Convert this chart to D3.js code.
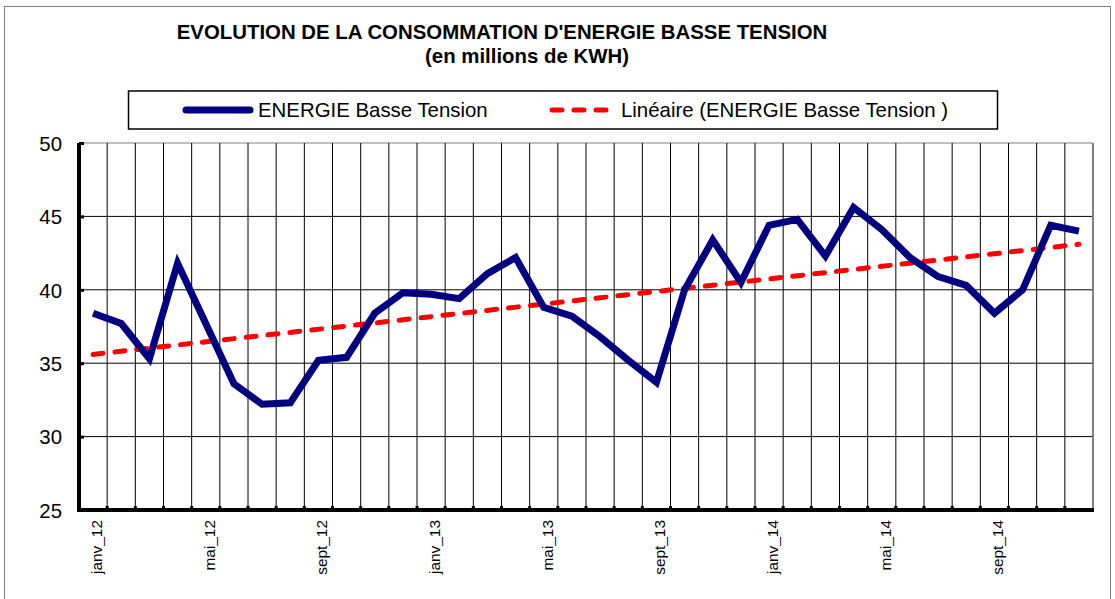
<!DOCTYPE html>
<html>
<head>
<meta charset="utf-8">
<script src="https://cdn.jsdelivr.net/npm/d3@7"></script>
<style>
  body { margin: 0; background: #fff; }
  text { font-family: "Liberation Sans", Arial, sans-serif; }
</style>
</head>
<body>
<div id="chart"></div>
<script>
// months on the category axis (janv_12 .. déc_14)
const months = [
  "janv_12", "févr_12", "mars_12", "avr_12", "mai_12", "juin_12", "juil_12", "août_12", "sept_12", "oct_12", "nov_12", "déc_12",
  "janv_13", "févr_13", "mars_13", "avr_13", "mai_13", "juin_13", "juil_13", "août_13", "sept_13", "oct_13", "nov_13", "déc_13",
  "janv_14", "févr_14", "mars_14", "avr_14", "mai_14", "juin_14", "juil_14", "août_14", "sept_14", "oct_14", "nov_14", "déc_14"
];
// energy in millions of KWH
const energy = [
  38.4, 37.7, 35.3, 41.8, 37.7, 33.6, 32.2, 32.3, 35.2, 35.4, 38.4, 39.8,
  39.7, 39.4, 41.1, 42.2, 38.8, 38.2, 36.8, 35.2, 33.7, 40.0, 43.4, 40.5,
  44.4, 44.8, 42.3, 45.6, 44.1, 42.2, 40.9, 40.3, 38.4, 40.0, 44.4, 44.0
];
// linear trend: value at first and last month
const trendMonths = ["janv_12", "déc_14"];
const trendValues = [35.6, 43.1];
const yTicks = [25, 30, 35, 40, 45, 50];
const xLabelEvery = 4;

const WIDTH = 1115, HEIGHT = 599;
const FONT = 20.4;
const plot = { left: 79, top: 143, right: 1093, bottom: 510 };
const BLUE = "#000080", RED = "#ff0000";

const svg = d3.select("#chart").append("svg")
  .attr("width", WIDTH)
  .attr("height", HEIGHT);

// outer chart border
svg.append("rect")
  .attr("x", 4.5).attr("y", 6.5)
  .attr("width", 1106).attr("height", 620)
  .attr("fill", "none")
  .attr("stroke", "#808080");

// title
svg.append("text")
  .attr("x", 502).attr("y", 39)
  .attr("text-anchor", "middle")
  .attr("font-size", FONT).attr("font-weight", "bold")
  .text("EVOLUTION DE LA CONSOMMATION D'ENERGIE BASSE TENSION");
svg.append("text")
  .attr("x", 527).attr("y", 63)
  .attr("text-anchor", "middle")
  .attr("font-size", FONT).attr("font-weight", "bold")
  .text("(en millions de KWH)");

const x = d3.scaleBand().domain(months).range([plot.left, plot.right]);
const y = d3.scaleLinear().domain([25, 50]).range([plot.bottom, plot.top]);
const cx = m => x(m) + x.bandwidth() / 2;

// horizontal gridlines
svg.append("g")
  .selectAll("line")
  .data(yTicks.filter(t => t > 25))
  .enter()
  .append("line")
  .attr("x1", plot.left).attr("x2", plot.right)
  .attr("y1", d => y(d)).attr("y2", d => y(d))
  .attr("stroke", d => d === 50 ? "#808080" : "#000")
  .attr("stroke-width", 1);

// vertical gridlines at category boundaries
svg.append("g")
  .selectAll("line")
  .data(months.slice(1))
  .enter()
  .append("line")
  .attr("x1", d => x(d)).attr("x2", d => x(d))
  .attr("y1", plot.top).attr("y2", plot.bottom)
  .attr("stroke", "#000")
  .attr("stroke-width", 1);

// right border of plot area
svg.append("line")
  .attr("x1", plot.right).attr("x2", plot.right)
  .attr("y1", plot.top).attr("y2", plot.bottom)
  .attr("stroke", "#808080").attr("stroke-width", 2);

// y axis
const yAxis = svg.append("g")
  .attr("transform", `translate(${plot.left},0)`)
  .call(d3.axisLeft(y).tickValues(yTicks).tickSize(-5).tickPadding(17));
yAxis.select(".domain")
  .attr("d", `M0,${plot.top}V${plot.bottom}`)
  .attr("stroke", "#000").attr("stroke-width", 4);
yAxis.selectAll(".tick line").attr("stroke", "#000").attr("stroke-width", 3);
yAxis.selectAll(".tick text")
  .attr("font-size", FONT)
  .attr("font-family", "Liberation Sans, Arial, sans-serif")
  .attr("fill", "#000")
  .attr("dy", "0.36em");

// x axis: tick marks on every category boundary, labels every 4th month
const xAxis = svg.append("g")
  .attr("transform", `translate(0,${plot.bottom})`);
xAxis.append("line")
  .attr("x1", plot.left - 2).attr("x2", plot.right + 1)
  .attr("y1", 0).attr("y2", 0)
  .attr("stroke", "#000").attr("stroke-width", 4);
xAxis.selectAll(".xtick")
  .data(months.slice(1))
  .enter()
  .append("line")
  .attr("class", "xtick")
  .attr("x1", d => x(d)).attr("x2", d => x(d))
  .attr("y1", 0).attr("y2", -4)
  .attr("stroke", "#000").attr("stroke-width", 3);
xAxis.selectAll(".xlabel")
  .data(months.filter((m, i) => i % xLabelEvery === 0))
  .enter()
  .append("text")
  .attr("class", "xlabel")
  .attr("transform", d => `translate(${cx(d) + 9},10) rotate(-90)`)
  .attr("text-anchor", "end")
  .attr("font-size", 15.4)
  .text(d => d);

// trend line
const line = d3.line().x(d => cx(d[0])).y(d => y(d[1]));
svg.append("path")
  .datum(trendMonths.map((m, i) => [m, trendValues[i]]))
  .attr("d", line)
  .attr("fill", "none")
  .attr("stroke", RED)
  .attr("stroke-width", 5)
  .attr("stroke-linecap", "round")
  .attr("stroke-dasharray", "10 12");

// energy series
svg.append("path")
  .datum(months.map((m, i) => [m, energy[i]]))
  .attr("d", line)
  .attr("fill", "none")
  .attr("stroke", BLUE)
  .attr("stroke-width", 7)
  .attr("stroke-linejoin", "miter");

// legend
const legend = svg.append("g");
legend.append("rect")
  .attr("x", 128.5).attr("y", 91)
  .attr("width", 869).attr("height", 38)
  .attr("fill", "#fff")
  .attr("stroke", "#000").attr("stroke-width", 1.5);
legend.append("line")
  .attr("x1", 186).attr("x2", 250)
  .attr("y1", 110).attr("y2", 110)
  .attr("stroke", BLUE).attr("stroke-width", 7)
  .attr("stroke-linecap", "round");
legend.append("text")
  .attr("x", 258).attr("y", 117)
  .attr("font-size", FONT)
  .text("ENERGIE Basse Tension");
legend.append("line")
  .attr("x1", 552).attr("x2", 608)
  .attr("y1", 110).attr("y2", 110)
  .attr("stroke", RED).attr("stroke-width", 5)
  .attr("stroke-linecap", "round")
  .attr("stroke-dasharray", "10 12");
legend.append("text")
  .attr("x", 621).attr("y", 117)
  .attr("font-size", FONT)
  .text("Linéaire (ENERGIE Basse Tension )");
</script>
</body>
</html>
